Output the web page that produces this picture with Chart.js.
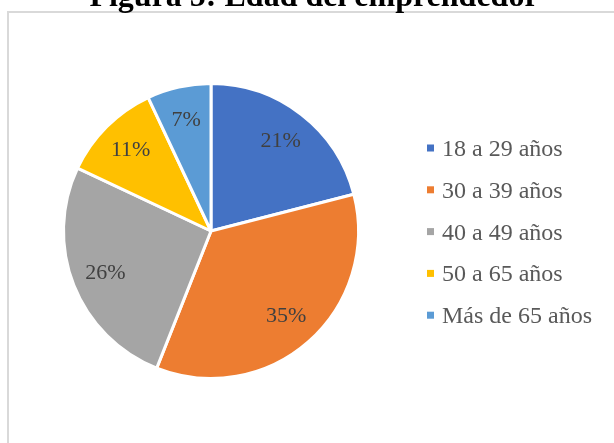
<!DOCTYPE html>
<html>
<head>
<meta charset="utf-8">
<script src="https://cdn.jsdelivr.net/npm/chart.js@4.4.1/dist/chart.umd.min.js"></script>
<style>
  html, body { margin: 0; padding: 0; background: #fff; overflow: hidden; }
  #frame {
    position: absolute; left: 7px; top: 11px; width: 700px; height: 500px;
    border-left: 2px solid #d9d9d9; border-top: 2px solid #d9d9d9;
  }
  #chart { position: absolute; left: 0; top: 0; }
</style>
</head>
<body>
<div id="frame"></div>
<canvas id="chart" width="614" height="443"></canvas>
<script>
const title = 'Figura 5: Edad del emprendedor';
const categories = ['18 a 29 años', '30 a 39 años', '40 a 49 años', '50 a 65 años', 'Más de 65 años'];
const shares = [21, 35, 26, 11, 7];
const colors = ['#4472C4', '#ED7D31', '#A5A5A5', '#FFC000', '#5B9BD5'];

// percent labels inside the slices, like Excel's data labels
const sliceLabels = {
  id: 'sliceLabels',
  afterDatasetsDraw(chart) {
    const ctx = chart.ctx;
    const meta = chart.getDatasetMeta(0);
    const values = chart.data.datasets[0].data;
    const total = values.reduce((a, b) => a + b, 0);
    ctx.save();
    ctx.font = '22px "Liberation Serif", "Times New Roman", serif';
    ctx.fillStyle = '#404040';
    ctx.textAlign = 'center';
    ctx.textBaseline = 'middle';
    meta.data.forEach((arc, i) => {
      const { x, y, startAngle, endAngle, outerRadius } = arc.getProps(['x', 'y', 'startAngle', 'endAngle', 'outerRadius'], true);
      const mid = (startAngle + endAngle) / 2;
      const r = outerRadius * 0.77;
      ctx.fillText(Math.round(values[i] / total * 100) + '%', x + Math.cos(mid) * r, y + Math.sin(mid) * r);
    });
    ctx.restore();
  }
};

// title (cut by the top edge) and the legend on the right
const extras = {
  id: 'extras',
  afterDraw(chart) {
    const ctx = chart.ctx;
    ctx.save();
    ctx.font = 'bold 32px "Liberation Serif", "Times New Roman", serif';
    ctx.fillStyle = '#000';
    ctx.textAlign = 'center';
    ctx.textBaseline = 'alphabetic';
    ctx.fillText(title, 314, 6);

    const bg = chart.data.datasets[0].backgroundColor;
    ctx.font = '24px "Liberation Serif", "Times New Roman", serif';
    ctx.textAlign = 'left';
    chart.data.labels.forEach((label, i) => {
      const cy = 148 + i * 41.8;
      ctx.fillStyle = bg[i];
      ctx.fillRect(427, cy - 3.5, 7, 7);
      ctx.fillStyle = '#595959';
      ctx.fillText(label, 442, cy + 8);
    });
    ctx.restore();
  }
};

new Chart(document.getElementById('chart'), {
  type: 'pie',
  data: {
    labels: categories,
    datasets: [{
      data: shares,
      backgroundColor: colors,
      borderColor: '#ffffff',
      borderWidth: 3
    }]
  },
  options: {
    responsive: false,
    animation: false,
    layout: {
      padding: { left: 62, right: 254, top: 82, bottom: 63 }
    },
    plugins: {
      legend: { display: false },
      title: { display: false },
      tooltip: { enabled: false }
    }
  },
  plugins: [sliceLabels, extras]
});
</script>
</body>
</html>
